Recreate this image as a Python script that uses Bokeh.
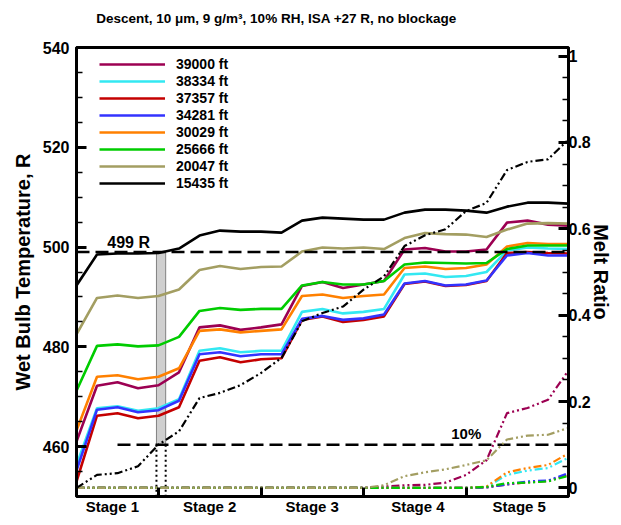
from bokeh.plotting import figure
from bokeh.models import (Range1d, LinearAxis, FixedTicker, NumeralTickFormatter,
                          Span, Label, Legend, LegendItem)
from bokeh.embed import file_html
from bokeh.resources import INLINE

FONT = "Liberation Sans"

# ---------------- data ----------------
x_pos = [0.2, 0.4, 0.6, 0.8, 1.0, 1.2, 1.4, 1.6, 1.8, 2.0, 2.2, 2.4, 2.6,
         2.8, 3.0, 3.2, 3.4, 3.6, 3.8, 4.0, 4.2, 4.4, 4.6, 4.8, 5.0]

altitudes = ["39000 ft", "38334 ft", "37357 ft", "34281 ft",
             "30029 ft", "25666 ft", "20047 ft", "15435 ft"]
colors = ["#9c0052", "#33e8f2", "#c40000", "#3333ff",
          "#ff8000", "#00cc00", "#a39e62", "#000000"]

t_39000 = [461.0, 472.2, 472.9, 471.7, 472.3, 474.9, 483.9, 484.3, 483.4, 483.9, 484.5, 492.2, 493.0,
           491.8, 492.5, 493.2, 499.5, 499.8, 499.1, 499.1, 499.5, 504.9, 505.3, 504.5, 504.3]
t_38334 = [456.3, 467.7, 468.1, 467.2, 467.7, 469.5, 479.2, 479.7, 478.9, 479.2, 479.2, 487.0, 487.6,
           486.7, 487.0, 487.6, 494.5, 494.7, 494.0, 494.2, 495.0, 499.3, 499.9, 499.7, 499.6]
t_37357 = [453.0, 466.2, 466.7, 465.7, 466.2, 467.9, 477.2, 477.9, 476.9, 477.5, 477.7, 485.4, 486.1,
           485.0, 485.4, 486.1, 492.6, 493.1, 492.2, 492.4, 493.2, 498.8, 499.0, 498.8, 498.7]
t_34281 = [455.2, 467.4, 467.9, 466.9, 467.3, 469.2, 478.5, 478.9, 478.1, 478.5, 478.5, 485.6, 486.2,
           485.4, 485.7, 486.5, 492.7, 493.2, 492.3, 492.5, 493.3, 498.3, 498.8, 498.3, 498.3]
t_30029 = [463.2, 474.0, 474.3, 473.5, 474.0, 475.7, 483.2, 483.5, 482.9, 483.2, 483.5, 490.2, 490.5,
           489.8, 490.2, 490.5, 495.8, 496.1, 495.6, 495.8, 496.5, 500.1, 500.8, 500.6, 500.6]
t_25666 = [471.2, 480.2, 480.5, 480.1, 480.3, 482.0, 487.2, 487.8, 487.4, 487.6, 487.6, 492.3, 493.0,
           492.5, 492.5, 493.2, 496.5, 496.9, 496.8, 496.7, 496.8, 499.6, 500.3, 500.3, 500.3]
t_20047 = [482.5, 489.8, 490.3, 489.8, 490.2, 491.5, 495.4, 496.2, 495.6, 496.0, 496.1, 499.1, 499.9,
           499.7, 499.9, 499.6, 501.8, 502.8, 502.6, 502.5, 502.0, 503.5, 504.7, 504.8, 504.7]
t_15435 = [492.3, 498.5, 498.7, 498.7, 498.8, 499.7, 502.3, 503.3, 503.1, 503.1, 502.9, 505.3, 505.9,
           505.7, 505.5, 505.5, 506.9, 507.5, 507.5, 507.3, 506.9, 508.1, 508.9, 508.9, 508.7]

m_39000 = [0, 0, 0, 0, 0, 0, 0, 0, 0, 0, 0, 0, 0, 0, 0,
           0.003, 0.006, 0.007, 0.012, 0.030, 0.064, 0.173, 0.185, 0.204, 0.272]
m_38334 = [0, 0, 0, 0, 0, 0, 0, 0, 0, 0, 0, 0, 0, 0, 0,
           0, 0, 0, 0, 0, 0.002, 0.030, 0.040, 0.046, 0.070]
m_37357 = [0, 0, 0, 0, 0, 0, 0, 0, 0, 0, 0, 0, 0, 0, 0,
           0, 0, 0, 0, 0, 0.001, 0.008, 0.013, 0.016, 0.030]
m_34281 = [0, 0, 0, 0, 0, 0, 0, 0, 0, 0, 0, 0, 0, 0, 0,
           0, 0, 0, 0, 0, 0.001, 0.008, 0.015, 0.017, 0.034]
m_30029 = [0, 0, 0, 0, 0, 0, 0, 0, 0, 0, 0, 0, 0, 0, 0,
           0, 0, 0, 0, 0, 0.003, 0.036, 0.046, 0.053, 0.080]
m_25666 = [0, 0, 0, 0, 0, 0, 0, 0, 0, 0, 0, 0, 0, 0, 0,
           0, 0, 0, 0, 0, 0.002, 0.011, 0.012, 0.015, 0.028]
m_20047 = [0, 0, 0, 0, 0, 0, 0, 0, 0, 0, 0, 0, 0, 0, 0,
           0.006, 0.027, 0.036, 0.043, 0.053, 0.064, 0.112, 0.121, 0.123, 0.139]
m_15435 = [0, 0.030, 0.034, 0.050, 0.100, 0.131, 0.208, 0.220, 0.238, 0.266, 0.301, 0.386, 0.405,
           0.420, 0.459, 0.490, 0.560, 0.585, 0.599, 0.641, 0.660, 0.736, 0.755, 0.761, 0.807]

temps = [t_39000, t_38334, t_37357, t_34281, t_30029, t_25666, t_20047, t_15435]
melts = [m_39000, m_38334, m_37357, m_34281, m_30029, m_25666, m_20047, m_15435]

stage_labels = ["Stage 1", "Stage 2", "Stage 3", "Stage 4", "Stage 5"]
stage_label_pos = [0.55, 1.5, 2.5, 3.53, 4.52]
stage_bounds = [1, 2, 3, 4]

t_ticks = [460, 480, 500, 520, 540]
t_minor = [455, 465, 470, 475, 485, 490, 495, 505, 510, 515, 525, 530, 535]
m_ticks = [0, 0.2, 0.4, 0.6, 0.8, 1.0]
m_minor = [0.05, 0.1, 0.15, 0.25, 0.3, 0.35, 0.45, 0.5, 0.55, 0.65, 0.7, 0.75, 0.85, 0.9, 0.95]

T_RANGE = (450, 540)
M_RANGE = (-0.02, 1.02)
X_RANGE = (0.2, 5.0)

THRESH_T = 499
THRESH_M = 0.10
X_MELT10 = 0.98     # where the 15435 ft melt ratio reaches 10 %
X_T499 = 1.07       # where the 15435 ft wet bulb temperature reaches 499 R
X_M10_LINE_START = 0.6

TITLE = "Descent, 10 \u03bcm, 9 g/m\u00b3, 10%  RH, ISA +27 R, no blockage"
TITLE_X = 2.17      # horizontal centre of the title, in x units

# ---------------- figure ----------------
p = figure(width=621, height=525, output_backend="svg", toolbar_location=None,
           x_range=Range1d(*X_RANGE), y_range=Range1d(*T_RANGE),
           min_border_left=76, min_border_right=53, min_border_top=47, min_border_bottom=29)
p.extra_y_ranges = {"melt": Range1d(*M_RANGE)}

bx = p.below[0]   # the real bottom axis

# title carried by a bare axis above the frame
top_ax = LinearAxis(ticker=FixedTicker(ticks=[TITLE_X]))
top_ax.major_label_overrides = {TITLE_X: TITLE}
top_ax.major_label_text_font = FONT
top_ax.major_label_text_font_size = "13.5px"
top_ax.major_label_text_font_style = "bold"
top_ax.major_label_text_color = "black"
top_ax.major_label_standoff = 22
top_ax.major_tick_out = 0
top_ax.major_tick_in = 0
top_ax.minor_tick_out = 0
top_ax.minor_tick_in = 0
top_ax.axis_line_alpha = 0
top_ax.major_tick_line_alpha = 0
top_ax.minor_tick_line_alpha = 0
p.add_layout(top_ax, "above")

p.xgrid.visible = False
p.ygrid.visible = False
p.outline_line_color = "black"
p.outline_line_width = 3
p.outline_line_alpha = 1
p.background_fill_color = "white"
p.border_fill_color = "white"

# left axis
ax = p.left[0]
ax.ticker = FixedTicker(ticks=t_ticks, minor_ticks=t_minor)
ax.axis_label = "Wet Bulb Temperature, R"
ax.axis_label_text_font = FONT
ax.axis_label_text_font_size = "20px"
ax.axis_label_text_font_style = "bold"
ax.axis_label_text_color = "black"
ax.axis_label_standoff = 6
ax.major_label_text_font = FONT
ax.major_label_text_font_size = "16px"
ax.major_label_text_font_style = "bold"
ax.major_label_text_color = "black"
ax.major_label_standoff = 7
ax.axis_line_width = 3
ax.major_tick_in = 10
ax.major_tick_out = 0
ax.minor_tick_in = 6
ax.minor_tick_out = 0
ax.major_tick_line_width = 3
ax.minor_tick_line_width = 1.5

# right axis
ax2 = LinearAxis(y_range_name="melt")
ax2.ticker = FixedTicker(ticks=m_ticks, minor_ticks=m_minor)
ax2.formatter = NumeralTickFormatter(format="0.[0]")
ax2.axis_label = "Melt Ratio"
ax2.axis_label_text_font = FONT
ax2.axis_label_text_font_size = "20px"
ax2.axis_label_text_font_style = "bold"
ax2.axis_label_text_color = "black"
ax2.axis_label_standoff = -4
ax2.major_label_text_font = FONT
ax2.major_label_text_font_size = "16px"
ax2.major_label_text_font_style = "bold"
ax2.major_label_text_color = "black"
ax2.major_label_standoff = 0
ax2.axis_line_width = 3
ax2.major_tick_in = 10
ax2.major_tick_out = 0
ax2.minor_tick_in = 6
ax2.minor_tick_out = 0
ax2.major_tick_line_width = 3
ax2.minor_tick_line_width = 1.5
p.add_layout(ax2, "right")

# bottom axis
bx.ticker = FixedTicker(ticks=stage_label_pos, minor_ticks=stage_bounds)
bx.major_label_overrides = {pos: lab for pos, lab in zip(stage_label_pos, stage_labels)}
bx.major_label_text_font = FONT
bx.major_label_text_font_size = "15px"
bx.major_label_text_font_style = "bold"
bx.major_label_text_color = "black"
bx.major_label_standoff = 1
bx.axis_line_width = 3
bx.major_tick_in = 0
bx.major_tick_out = 0
bx.minor_tick_in = 9
bx.minor_tick_out = 0
bx.minor_tick_line_width = 3

# threshold helpers
t_at_m10 = T_RANGE[0] + (THRESH_M - M_RANGE[0]) / (M_RANGE[1] - M_RANGE[0]) * (T_RANGE[1] - T_RANGE[0])

p.quad(left=[X_MELT10], right=[X_T499], top=[THRESH_T], bottom=[t_at_m10],
       fill_color="#cfcfcf", line_color="#808080", line_width=1)

p.segment(x0=[X_MELT10, X_T499], y0=[THRESH_M, THRESH_M], x1=[X_MELT10, X_T499],
          y1=[M_RANGE[0], M_RANGE[0]], y_range_name="melt",
          line_color="black", line_width=2, line_dash="2 3")

p.add_layout(Span(location=THRESH_T, dimension="width", line_color="black",
                  line_width=2.5, line_dash="13 6"))
p.segment(x0=[X_M10_LINE_START], y0=[THRESH_M], x1=[X_RANGE[1]], y1=[THRESH_M],
          y_range_name="melt", line_color="black", line_width=2.5, line_dash="13 6")

# temperature lines
items = []
for name, col, t in zip(altitudes, colors, temps):
    r = p.line(x_pos, t, line_color=col, line_width=2.6)
    items.append(LegendItem(label=name, renderers=[r]))

# melt ratio lines (dash-dot-dot)
for col, m in zip(colors, melts):
    p.line(x_pos, m, y_range_name="melt", line_color=col, line_width=2.2,
           line_dash="8 3 2 3 2 3")

# annotations
p.add_layout(Label(x=0.5, y=500.9, text="499 R", text_font=FONT, text_font_size="16px",
                   text_font_style="bold", text_baseline="middle", text_color="black"))
p.add_layout(Label(x=3.856, y=0.125, y_range_name="melt", text="10%", text_font=FONT,
                   text_font_size="15px", text_font_style="bold", text_baseline="middle",
                   text_color="black"))

legend = Legend(items=items, location=(18, 300))
legend.label_text_font = FONT
legend.label_text_font_size = "14px"
legend.label_text_font_style = "bold"
legend.label_text_color = "black"
legend.glyph_width = 66
legend.glyph_height = 14
legend.label_height = 14
legend.spacing = 1
legend.label_standoff = 11
legend.padding = 5
legend.margin = 0
legend.border_line_alpha = 0
legend.background_fill_alpha = 0
p.add_layout(legend)

open("out.html", "w").write(file_html(p, INLINE))
